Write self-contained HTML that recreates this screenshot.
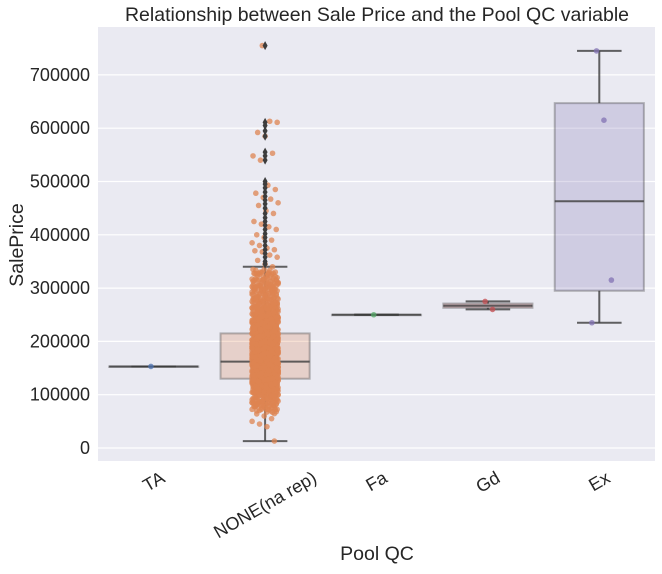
<!DOCTYPE html>
<html><head><meta charset="utf-8"><style>
body{margin:0;background:#fff}
svg text{font-family:"Liberation Sans",Arial,sans-serif;fill:#262626}
</style></head><body>
<svg id="chart" width="662" height="569">
<text x="377" y="21" font-size="19.5" text-anchor="middle">Relationship between Sale Price and the Pool QC variable</text>
<rect x="98" y="27" width="557" height="434" fill="#eaeaf2"/>
<g id="grid"></g><g id="boxes"></g><g id="pts"></g><g id="outl"></g><g id="yt"></g><g id="xt"></g>
<text x="377" y="560" font-size="19.5" text-anchor="middle">Pool QC</text>
<text transform="translate(23,245) rotate(-90)" font-size="19.5" text-anchor="middle">SalePrice</text>
</svg>
<script>
const categories=["TA","NONE(na rep)","Fa","Gd","Ex"];
const colors=["#4c72b0","#dd8452","#55a868","#c44e52","#8172b3"];
const yTicks=[0,100000,200000,300000,400000,500000,600000,700000];
const boxQ1=[153000,130000,250000,263000,295000];
const boxMed=[153000,162000,250000,267000,463000];
const boxQ3=[153000,215000,250000,271000,647000];
const whiskLo=[153000,13000,250000,260000,235000];
const whiskHi=[153000,340000,250000,275000,745000];
const outliersNone=[755000,611000,605000,595000,585000,555000,548000,540000,500000,495000,488000,480000,472000,465000,458000,450000,440000,432000,425000,418000,410000,402000,395000,388000,380000,372000,365000,358000,350000,345000];
const ptsTA=[153000];
const ptsFa=[250000];
const ptsGd=[275000,260000];
const ptsEx=[745000,615000,315000,235000];
const ptsNoneK=[755,613,611,592,585,553,548,540,493,485,478,470,467,460,455,445,440,425,420,415,410,400,395,390,385,380,375,372,370,368,362,358,352,345,340,335,330,326,322,318,315,312,308,305,302,300,297,294,290,287,284,281,278,275,272,270,268,265,262,260,258,256,254,252,250,248,246,244,242,240,238,236,234,232,230,228,226,224,222,220,218,216,214,212,210,208,206,204,202,200,199,197,195,193,191,190,188,186,185,183,181,180,178,177,175,174,172,171,169,168,166,165,163,162,160,159,157,156,155,153,152,150,149,147,146,145,143,142,140,139,137,136,135,133,132,130,129,127,126,125,123,122,120,118,117,115,113,112,110,108,107,105,103,100,98,95,93,90,88,85,82,80,78,75,72,68,64,60,55,50,45,40,13,
210,205,200,195,190,185,180,175,170,165,160,155,150,145,140,135,130,125,120,115,170,160,150,140,180,190,165,155,145,135,175,185,195,205,215,225,235,245,255,265,128,138,148,158,168,178,188,198,143,153,163,173,183,193,203,213,223,233,243,253,263,273,283,293,303,313,118,108,98,88,132,142,152,162,172,182,192,202,212,222,232,242,157,167,177,187,197,207,217,227];
const ns="http://www.w3.org/2000/svg";
const X0=98,W=557,Y0=448,PX=53.3/100000;
function xs(i){return X0+W/categories.length*(i+0.5);}
function ys(v){return Y0-v*PX;}
function mk(tag,attrs,parent){const e=document.createElementNS(ns,tag);for(const k in attrs)e.setAttribute(k,attrs[k]);parent.appendChild(e);return e;}
const grid=document.getElementById('grid'),yt=document.getElementById('yt'),xt=document.getElementById('xt'),bx=document.getElementById('boxes'),pts=document.getElementById('pts'),outl=document.getElementById('outl');
yTicks.forEach(v=>{
 const l=mk('line',{x1:X0,x2:X0+W,y1:ys(v),y2:ys(v),stroke:'#fff','stroke-width':1.2},grid);
 
 
 const t=mk('text',{x:90,y:ys(v)+6,'font-size':18,'text-anchor':'end'},yt);
 t.textContent=v;
 
 
});
categories.forEach((c,i)=>{
 const t=mk('text',{'font-size':18,'text-anchor':'middle'},xt);
 t.textContent=c;
 
 
 const w=t.getComputedTextLength(),h=14;
 const bh=w*0.5+h*0.866;
 const cy=470+bh/2;
 t.setAttribute('transform','translate('+xs(i)+','+cy+') rotate(-30)');
 t.setAttribute('dy','6');
});
const bw=W/categories.length*0.8, gcol='rgba(60,60,60,0.8)';
categories.forEach((c,i)=>{
 const cx=xs(i);
 const g=mk('g',{},bx);
 
 
 mk('line',{x1:cx,x2:cx,y1:ys(whiskLo[i]),y2:ys(boxQ1[i]),stroke:gcol,'stroke-width':2},g);
 mk('line',{x1:cx,x2:cx,y1:ys(boxQ3[i]),y2:ys(whiskHi[i]),stroke:gcol,'stroke-width':2},g);
 mk('line',{x1:cx-bw/4,x2:cx+bw/4,y1:ys(whiskLo[i]),y2:ys(whiskLo[i]),stroke:gcol,'stroke-width':2},g);
 mk('line',{x1:cx-bw/4,x2:cx+bw/4,y1:ys(whiskHi[i]),y2:ys(whiskHi[i]),stroke:gcol,'stroke-width':2},g);
 mk('rect',{x:cx-bw/2,y:ys(boxQ3[i]),width:bw,height:Math.max(0.5,ys(boxQ1[i])-ys(boxQ3[i])),fill:colors[i],'fill-opacity':0.25,stroke:'rgba(60,60,60,0.35)','stroke-width':2},g);
 mk('line',{x1:cx-bw/2,x2:cx+bw/2,y1:ys(boxMed[i]),y2:ys(boxMed[i]),stroke:gcol,'stroke-width':2},g);
});
outliersNone.forEach(v=>{
 const cx=xs(1),cy=ys(v);
 const d=mk('path',{d:'M'+cx+','+(cy-4.5)+'L'+(cx+2.5)+','+cy+'L'+cx+','+(cy+4.5)+'L'+(cx-2.5)+','+cy+'Z',fill:'#3d3d3d'},outl);
 
 
});
function strip(vals,i,seed,op){
 vals.forEach((v,k)=>{
  const j=(((k*37+seed)%29)/28*2-1)*13;
  const c=mk('circle',{cx:xs(i)+j,cy:ys(v),r:2.8,fill:colors[i],'fill-opacity':op},pts);
  
  
 });
}
strip(ptsTA,0,11,0.75);
const noneVals=ptsNoneK.map(v=>v*1000);
strip(noneVals,1,11,0.75);
const bulk=noneVals.filter(v=>v>=70000&&v<=335000);
[3,7,17,23,5].forEach(s=>strip(bulk.map((v,k)=>v+((k*s)%7-3)*2500),1,s,0.75));
strip(ptsFa,2,11,0.75);strip(ptsGd,3,11,0.75);strip(ptsEx,4,11,0.75);
</script>
</body></html>
